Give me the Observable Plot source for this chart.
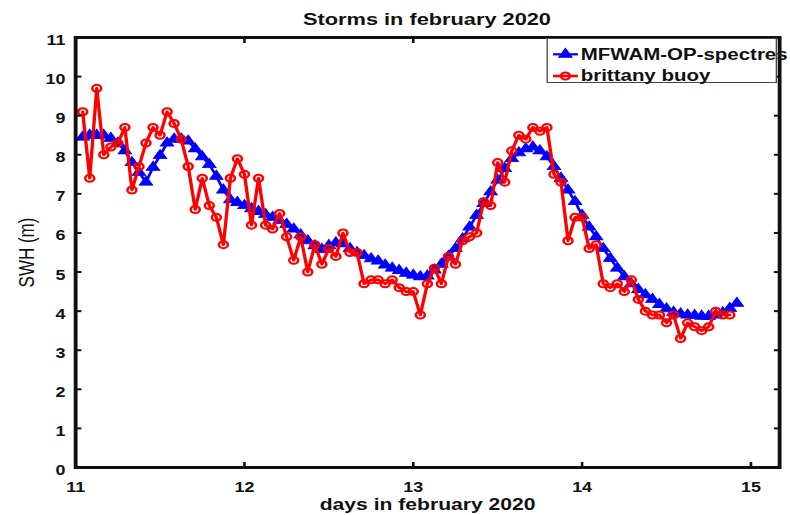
<!DOCTYPE html>
<html>
<head>
<meta charset="utf-8">
<script src="https://cdn.jsdelivr.net/npm/d3@7"></script>
<script src="https://cdn.jsdelivr.net/npm/@observablehq/plot@0.6"></script>
<style>
  html, body { margin: 0; padding: 0; background: #fff; }
  body { width: 790px; height: 515px; overflow: hidden; }
  #wrap { position: relative; width: 617.2px; height: 515px; transform: scaleX(1.28); transform-origin: 0 0;
          font-family: "Liberation Sans", Arial, Helvetica, sans-serif; color: #111; }
  #title { position: absolute; left: 58.6px; width: 550px; top: 10.6px; text-align: center;
           font-weight: bold; font-size: 17px; line-height: 17px; white-space: nowrap; }
  #chart { position: absolute; left: 0; top: 30px; }
  #legend { position: absolute; left: 427.3px; top: 38px; width: 179.5px; height: 45px;
            border: 1px solid #444; background: #fff; box-sizing: border-box; overflow: visible; }
  #legend svg { position: absolute; left: -1px; top: -1px; overflow: visible; }
</style>
</head>
<body>
<div id="wrap">
  <div id="title"></div>
  <div id="chart"></div>
  <div id="legend"></div>
</div>
<script>
// ---- data ----
const titleText = "Storms in february 2020";
const xLabel = "days in february 2020";
const yLabel = "SWH (m)";
const seriesNames = ["MFWAM-OP-spectres", "brittany buoy"];
const xTicks = [11, 12, 13, 14, 15];
const yTicks = [0, 1, 2, 3, 4, 5, 6, 7, 8, 9, 10, 11];

// hourly samples, first sample at 11 Feb 01:00
const startDay = 11;
const modelFirstHour = 1;
const modelSwh = [
  8.45, 8.5, 8.5, 8.5, 8.42, 8.3, 8.1, 7.8, 7.55, 7.3,
  7.68, 7.98, 8.3, 8.4, 8.4, 8.35, 8.15, 7.95, 7.75, 7.45,
  7.1, 6.85, 6.78, 6.7, 6.62, 6.55, 6.47, 6.4, 6.32, 6.22,
  6.1, 5.95, 5.8, 5.67, 5.58, 5.68, 5.75, 5.72, 5.6, 5.5,
  5.42, 5.34, 5.28, 5.18, 5.1, 5.04, 4.97, 4.92, 4.88, 4.9,
  5.05, 5.2, 5.4, 5.6, 5.85, 6.15, 6.45, 6.75, 7.05, 7.35,
  7.65, 7.9, 8.05, 8.15, 8.2, 8.1, 7.95, 7.7, 7.4, 7.1,
  6.8, 6.45, 6.15, 5.9, 5.6, 5.35, 5.1, 4.88, 4.7, 4.55,
  4.42, 4.3, 4.17, 4.06, 3.97, 3.93, 3.9, 3.89, 3.87, 3.87,
  3.9, 3.96, 4.07, 4.2
];
const buoyFirstHour = 1;
const buoySwh = [
  9.1, 7.4, 9.7, 8.0, 8.2, 8.3, 8.7, 7.1, 7.7, 8.3,
  8.7, 8.5, 9.1, 8.8, 8.4, 7.7, 6.6, 7.4, 6.7, 6.4,
  5.7, 7.4, 7.9, 7.5, 6.2, 7.4, 6.2, 6.1, 6.5, 5.9,
  5.3, 5.9, 5.0, 5.7, 5.2, 5.6, 5.4, 6.0, 5.5, 5.5,
  4.7, 4.8, 4.8, 4.7, 4.8, 4.6, 4.5, 4.5, 3.9, 4.7,
  5.1, 4.7, 5.4, 5.2, 5.8, 5.9, 6.0, 6.8, 6.7, 7.8,
  7.3, 8.1, 8.5, 8.4, 8.7, 8.6, 8.7, 7.5, 7.3, 5.8,
  6.4, 6.4, 5.6, 5.7, 4.7, 4.6, 4.7, 4.5, 4.8, 4.3,
  4.0, 3.9, 3.9, 3.7, 3.9, 3.3, 3.7, 3.6, 3.5, 3.6,
  4.0, 3.9, 3.9
];

const BLUE = "#0000ff";
const RED = "#ff0000";
const INK = "#111";

const model = modelSwh.map((v, i) => ({t: startDay + (modelFirstHour + i) / 24, v}));
const buoy = buoySwh.map((v, i) => ({t: startDay + (buoyFirstHour + i) / 24, v}));

document.getElementById("title").textContent = titleText;

const intFmt = d => String(d);

const chart = Plot.plot({
  width: 617.2,
  height: 485,
  marginLeft: 58.6,
  marginRight: 8.6,
  marginTop: 7,
  marginBottom: 48,
  x: {domain: [11, 15.17]},
  y: {domain: [0, 11]},
  style: {fontFamily: "'Liberation Sans', Arial, Helvetica, sans-serif", color: INK, background: "transparent", overflow: "visible"},
  marks: [
    Plot.line(model, {x: "t", y: "v", stroke: BLUE, strokeWidth: 2.2}),
    Plot.dot(model, {x: "t", y: "v", symbol: "triangle", r: 3.9, fill: BLUE, stroke: BLUE, strokeWidth: 0.8}),
    Plot.line(buoy, {x: "t", y: "v", stroke: RED, strokeWidth: 2.6}),
    Plot.dot(buoy, {x: "t", y: "v", r: 3.5, fill: "none", stroke: RED, strokeWidth: 2}),
    Plot.frame({stroke: INK, strokeWidth: 3}),
    // inward ticks on all four sides
    Plot.axisX(xTicks, {anchor: "bottom", tickSize: 5, dy: -5, strokeWidth: 2, tickFormat: () => "", label: null}),
    Plot.axisX(xTicks, {anchor: "top", tickSize: 5, dy: 5, strokeWidth: 2, tickFormat: () => "", label: null}),
    Plot.axisY(yTicks, {anchor: "left", tickSize: 5, dx: 5, strokeWidth: 2, tickFormat: () => "", label: null}),
    Plot.axisY(yTicks, {anchor: "right", tickSize: 5, dx: -5, strokeWidth: 2, tickFormat: () => "", label: null}),
    // tick labels
    Plot.axisX(xTicks, {anchor: "bottom", tickSize: 0, tickPadding: 15, fontSize: 14, fontWeight: "bold", tickFormat: intFmt, label: null}),
    Plot.axisY(yTicks, {anchor: "left", tickSize: 0, tickPadding: 8, dy: 3, fontSize: 14, fontWeight: "bold", tickFormat: intFmt, label: null}),
    // axis titles
    Plot.text([yLabel], {text: d => d, frameAnchor: "left", textAnchor: "middle", lineAnchor: "middle", rotate: -90, dx: -37.6, fontSize: 17, fill: INK}),
    Plot.text([xLabel], {text: d => d, frameAnchor: "bottom", textAnchor: "middle", lineAnchor: "bottom", dy: 43, fontSize: 16.5, fontWeight: "bold", fill: INK})
  ]
});
document.getElementById("chart").appendChild(chart);

// legend
const ns = "http://www.w3.org/2000/svg";
const lg = document.createElementNS(ns, "svg");
lg.setAttribute("width", 180);
lg.setAttribute("height", 46);
const rows = [
  {name: seriesNames[0], color: BLUE, y: 16.3, marker: "tri", w: 2.2},
  {name: seriesNames[1], color: RED, y: 38, marker: "circ", w: 2.6}
];
for (const r of rows) {
  const ln = document.createElementNS(ns, "line");
  ln.setAttribute("x1", 5); ln.setAttribute("x2", 24.5);
  ln.setAttribute("y1", r.y); ln.setAttribute("y2", r.y);
  ln.setAttribute("stroke", r.color); ln.setAttribute("stroke-width", r.w);
  lg.appendChild(ln);
  if (r.marker === "tri") {
    const p = document.createElementNS(ns, "path");
    p.setAttribute("d", d3.symbol(d3.symbolTriangle, 3.9 * 3.9 * Math.PI)());
    p.setAttribute("transform", `translate(14.7,${r.y})`);
    p.setAttribute("fill", r.color); p.setAttribute("stroke", r.color); p.setAttribute("stroke-width", 0.8);
    lg.appendChild(p);
  } else {
    const c = document.createElementNS(ns, "circle");
    c.setAttribute("cx", 14.7); c.setAttribute("cy", r.y); c.setAttribute("r", 3.5);
    c.setAttribute("fill", "none"); c.setAttribute("stroke", r.color); c.setAttribute("stroke-width", 2);
    lg.appendChild(c);
  }
  const t = document.createElementNS(ns, "text");
  t.setAttribute("x", 26.7);
  t.setAttribute("y", r.y + 5.5);
  t.setAttribute("font-size", 16);
  t.setAttribute("font-weight", "bold");
  t.setAttribute("font-family", "'Liberation Sans', Arial, Helvetica, sans-serif");
  t.setAttribute("fill", INK);
  t.textContent = r.name;
  lg.appendChild(t);
}
document.getElementById("legend").appendChild(lg);
</script>
</body>
</html>
